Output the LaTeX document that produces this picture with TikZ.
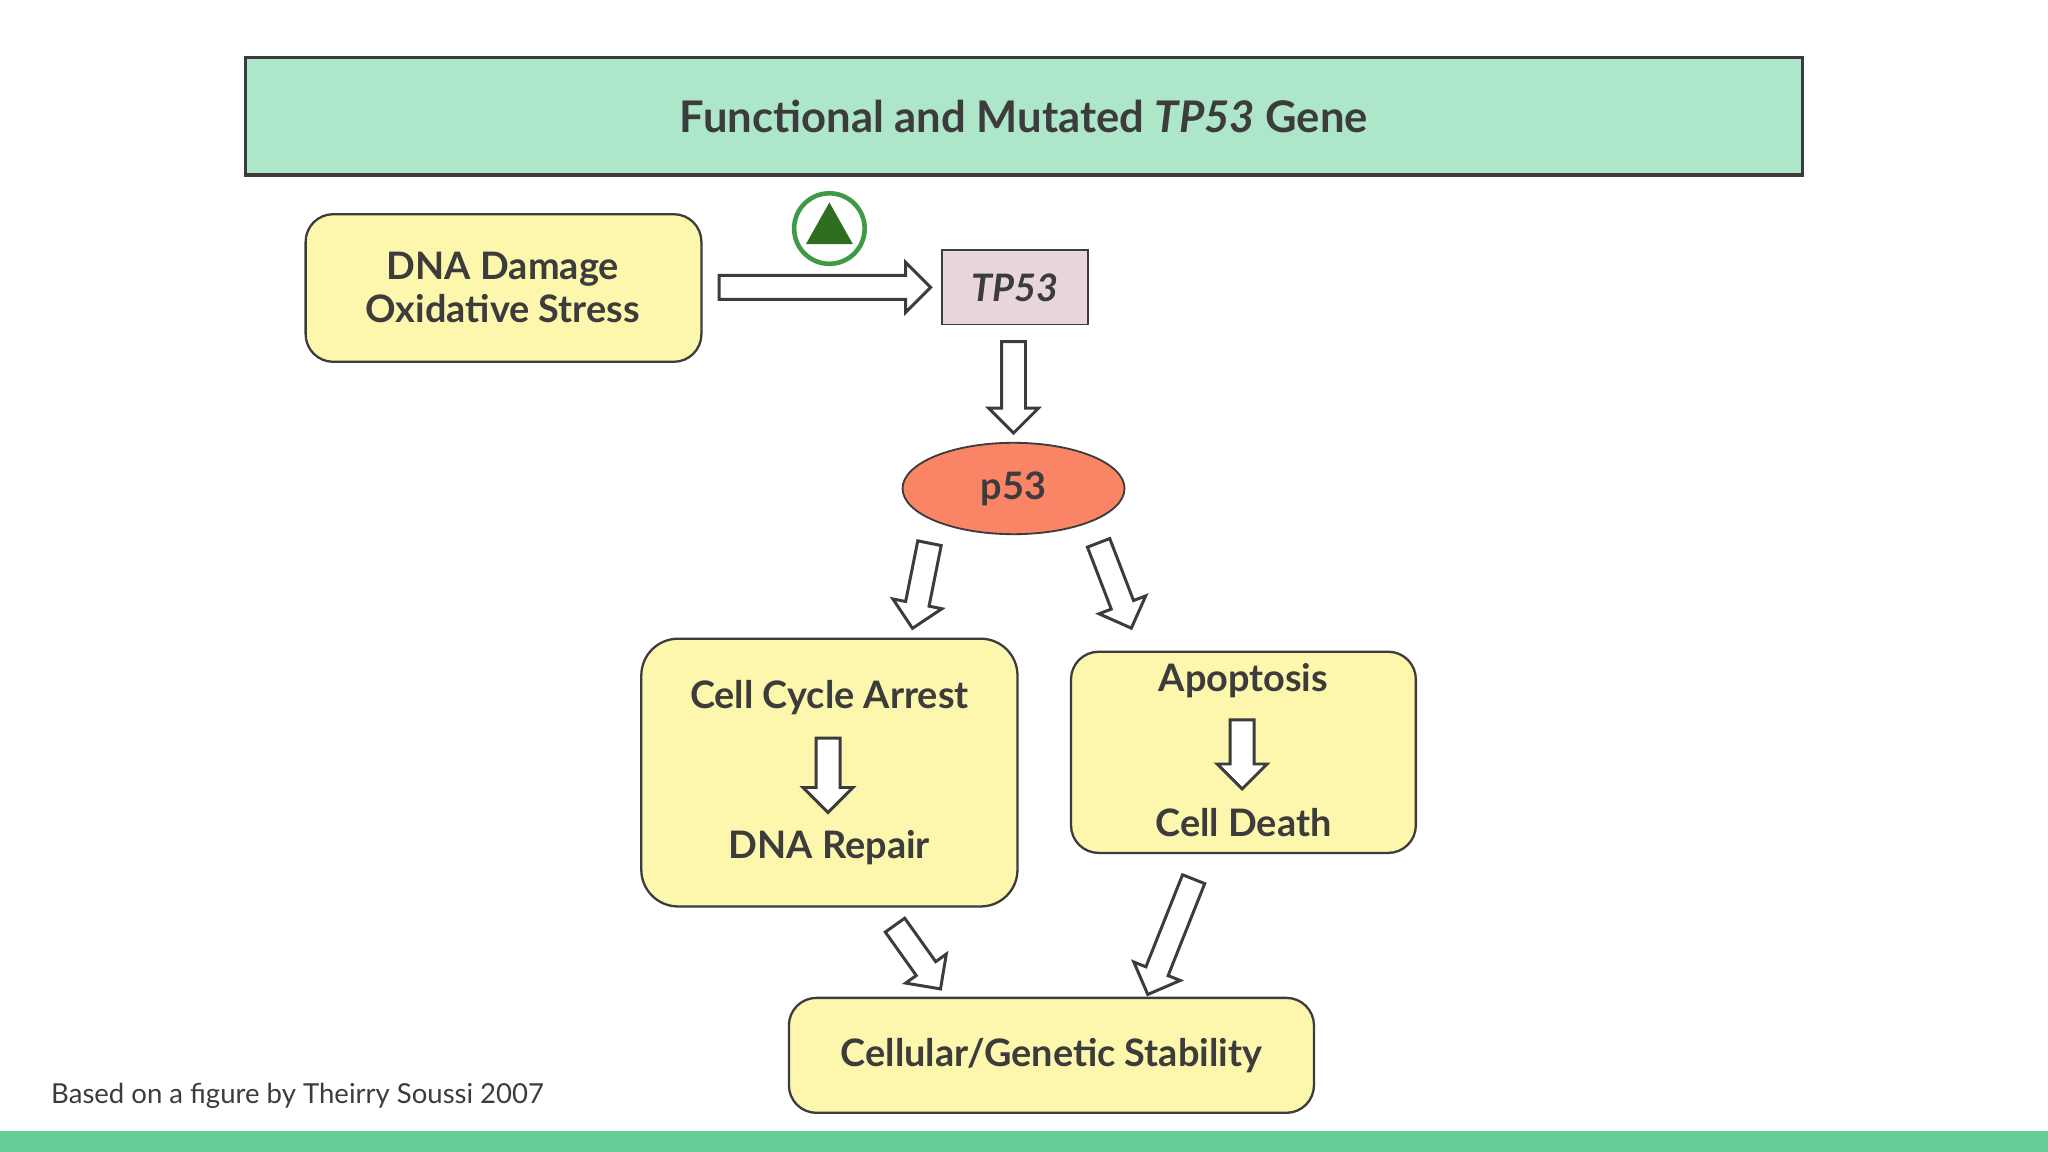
\documentclass[tikz,border=0pt]{standalone}
\usepackage{fontspec}
\setmainfont{Lato}
\usetikzlibrary{shapes.arrows,shapes.geometric}
\definecolor{titlegreen}{HTML}{AEE6CA}
\definecolor{boxyellow}{HTML}{FDF7AE}
\definecolor{genepink}{HTML}{E8D5DD}
\definecolor{protred}{HTML}{FA8466}
\definecolor{bargreen}{HTML}{66CF98}
\definecolor{ink}{HTML}{3C3C3C}
\definecolor{ringgreen}{HTML}{3F9A45}
\definecolor{darkgreen}{HTML}{2E6E1E}
\tikzset{
  box/.style={draw=ink, line width=1pt, fill=boxyellow, rounded corners=12pt, text=ink, font=\bfseries\fontsize{16.5}{20}\selectfont, align=center},
  harrow/.style={single arrow, draw=ink, line width=1.3pt, fill=white, inner sep=0pt, minimum width=0.72cm, single arrow head extend=0.2cm, text height=0.32cm, text width=0pt},
}
\begin{document}
\begin{tikzpicture}[x=0.02cm, y=-0.02cm]
  \useasboundingbox (0,0) rectangle (1568,882);
  \fill[white] (0,0) rectangle (1568,882);
  \fill[bargreen] (0,866) rectangle (1568,882);

  % title
  \draw[ink, line width=1.5pt, fill=titlegreen] (188,44) rectangle (1380,134);
  \node[text=ink, font=\bfseries\fontsize{19}{22}\selectfont] (title) at (784,89) {Functional and Mutated \textit{TP53} Gene};

  % boxes
  \draw[box] (234,164) rectangle (537,277);
  \node[box, draw=none, fill=none] (stress) at (385,220) {DNA Damage\\[-1pt]Oxidative Stress};
  \node[draw=ink, line width=0.8pt, fill=genepink, minimum width=2.24cm, minimum height=1.14cm, text=ink, font=\bfseries\itshape\fontsize{16.5}{20}\selectfont] (gene) at (777,220) {TP53};
  \node[ellipse, draw=ink, line width=0.8pt, fill=protred, minimum width=3.4cm, minimum height=1.4cm, text=ink, font=\bfseries\fontsize{16.5}{20}\selectfont] (protein) at (776,374) {p53};

  \draw[box, rounded corners=16pt] (491,489) rectangle (779,694);
  \node[box, draw=none, fill=none] (arrest) at (635,534) {Cell Cycle Arrest};
  \node[box, draw=none, fill=none] (repair) at (635,649) {DNA Repair};

  \draw[box] (820,499) rectangle (1084,653);
  \node[box, draw=none, fill=none] (apop) at (952,521) {Apoptosis};
  \node[box, draw=none, fill=none] (death) at (952,630) {Cell Death};

  \draw[box] (604,764) rectangle (1006,852);
  \node[box, draw=none, fill=none] (stable) at (805,808) {Cellular/Genetic Stability};

  % activation icon
  \draw[ringgreen, line width=2pt, fill=white] (635,175) circle (27);
  \fill[darkgreen] (635,155) -- (653,187) -- (617,187) -- cycle;

  % hollow arrows
  \node[harrow, minimum height=3.24cm] (a1) at (627,220) {};
  \node[harrow, minimum height=1.4cm, rotate=270] (a2) at (776,292) {};
  \node[harrow, minimum height=1.33cm, rotate=258.7] (a3) at (706,444) {};
  \node[harrow, minimum height=1.4cm, rotate=291] (a4) at (852,444) {};
  \node[harrow, minimum height=1.14cm, rotate=270] (a5) at (634,589) {};
  \node[harrow, minimum height=1.06cm, rotate=270] (a6) at (951,573) {};
  \node[harrow, minimum height=1.2cm, rotate=305.5] (a7) at (700,729) {};
  \node[harrow, minimum height=1.9cm, rotate=248.3] (a8) at (898,713) {};

  % footer
  \node[anchor=west, text=ink, font=\fontsize{12}{14}\selectfont] (credit) at (33,839) {Based on a figure by Theirry Soussi 2007};
\end{tikzpicture}
\end{document}
